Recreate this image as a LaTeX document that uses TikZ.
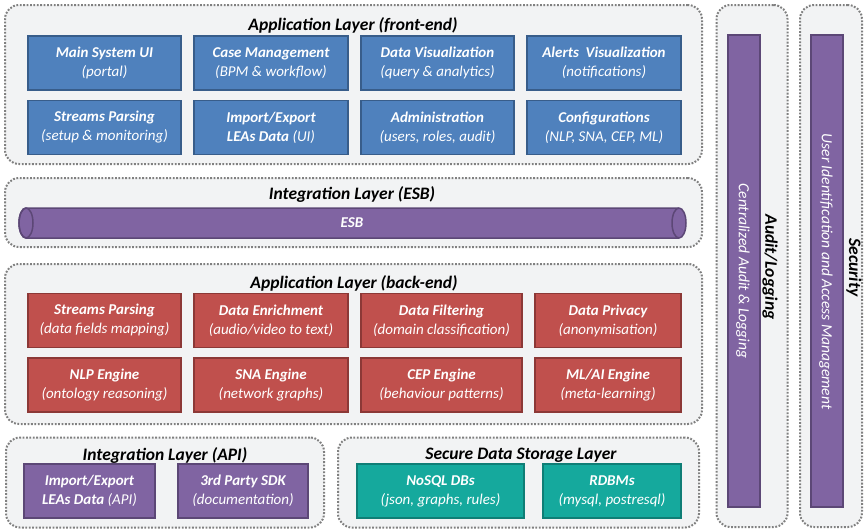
\documentclass[tikz,border=0pt]{standalone}
\usepackage{fontspec}
\setmainfont{Carlito}
\definecolor{panel}{HTML}{F2F3F4}
\definecolor{dotgrey}{HTML}{808080}
\definecolor{feFill}{HTML}{4F81BD}
\definecolor{feLine}{HTML}{385D8A}
\definecolor{beFill}{HTML}{C0504D}
\definecolor{beLine}{HTML}{8C3836}
\definecolor{apFill}{HTML}{8064A2}
\definecolor{apLine}{HTML}{5C4776}
\definecolor{dbFill}{HTML}{15A99D}
\definecolor{dbLine}{HTML}{0F7E76}
\tikzset{
  layer/.style={draw=dotgrey, fill=panel, line width=2pt,
    dash pattern=on 1.8pt off 1.6pt, rounded corners=14pt},
  layertitle/.style={anchor=base, inner sep=0pt,
    font=\fontsize{17.5}{20}\selectfont\bfseries\itshape},
  unit/.style={line width=1.6pt, text=white, align=center, inner sep=0pt,
    font=\fontsize{15}{19}\selectfont\itshape},
  feunit/.style={unit, draw=feLine, fill=feFill},
  beunit/.style={unit, draw=beLine, fill=beFill},
  apunit/.style={unit, draw=apLine, fill=apFill},
  dbunit/.style={unit, draw=dbLine, fill=dbFill},
  sidetext/.style={rotate=-90, inner sep=0pt, text=white,
    font=\fontsize{15.5}{18}\selectfont\itshape},
  sidetitle/.style={rotate=-90, inner sep=0pt,
    font=\fontsize{17.5}{20}\selectfont\bfseries\itshape},
  sidebar/.style={draw=apLine, fill=apFill, line width=1.6pt,
    minimum width=32, minimum height=472, inner sep=0pt},
}

\begin{document}
\begin{tikzpicture}[x=1pt,y=1pt]
\useasboundingbox[fill=white] (0,0) rectangle (864,-530);

% ---- layer frames ----
\node[layer, minimum width=697, minimum height=159] (frontL) at (353.5,-84.5) {};
\node[layer, minimum width=697, minimum height=69] (esbL) at (353.5,-212.5) {};
\node[layer, minimum width=697, minimum height=160] (backL) at (353.5,-344) {};
\node[layer, minimum width=318, minimum height=90] (apiL) at (165,-482.5) {};
\node[layer, minimum width=361, minimum height=90] (storeL) at (518.5,-482.5) {};
\node[layer, minimum width=71, minimum height=522] (auditL) at (752,-266) {};
\node[layer, minimum width=62, minimum height=522] (secL) at (831,-266) {};

% ---- layer titles ----
\node[layertitle] (frontT) at (353,-30) {Application Layer (front-end)};
\node[layertitle] (esbT) at (352,-199) {Integration Layer (ESB)};
\node[layertitle] (backT) at (354,-288) {Application Layer (back-end)};
\node[layertitle] (apiT) at (165,-460) {Integration Layer (API)};
\node[layertitle] (storeT) at (521,-459) {Secure Data Storage Layer};

\begin{scope}[every node/.append style={minimum height=54}]
% ---- front-end units ----
\node[feunit, minimum width=153] (mainui) at (104.5,-63) {\textbf{Main System UI}\\(portal)};
\node[feunit, minimum width=154] (casemgmt) at (271,-63) {\textbf{Case Management}\\(BPM \& workflow)};
\node[feunit, minimum width=153] (dataviz) at (437.5,-63) {\textbf{Data Visualization}\\(query \& analytics)};
\node[feunit, minimum width=154] (alertviz) at (604,-63) {\textbf{Alerts\ \ Visualization}\\(notifications)};
\node[feunit, minimum width=153] (streamsui) at (104.5,-127.5) {\textbf{Streams Parsing}\\(setup \& monitoring)};
\node[feunit, minimum width=154] (leasui) at (271,-127.5) {\textbf{Import/Export}\\\textbf{LEAs Data} (UI)};
\node[feunit, minimum width=153] (admin) at (437.5,-127.5) {\textbf{Administration}\\(users, roles, audit)};
\node[feunit, minimum width=154] (config) at (604,-127.5) {\textbf{Configurations}\\(NLP, SNA, CEP, ML)};

% ---- back-end units ----
\node[beunit, minimum width=153] (streams) at (104.5,-320.5) {\textbf{Streams Parsing}\\(data fields mapping)};
\node[beunit, minimum width=154] (enrich) at (271,-320.5) {\textbf{Data Enrichment}\\(audio/video to text)};
\node[beunit, minimum width=161] (filter) at (441.5,-320.5) {\textbf{Data Filtering}\\(domain classification)};
\node[beunit, minimum width=146] (privacy) at (608,-320.5) {\textbf{Data Privacy}\\(anonymisation)};
\node[beunit, minimum width=153] (nlp) at (104.5,-385) {\textbf{NLP Engine}\\(ontology reasoning)};
\node[beunit, minimum width=154] (sna) at (271,-385) {\textbf{SNA Engine}\\(network graphs)};
\node[beunit, minimum width=161] (cep) at (441.5,-385) {\textbf{CEP Engine}\\(behaviour patterns)};
\node[beunit, minimum width=146] (mlai) at (608,-385) {\textbf{ML/AI Engine}\\(meta-learning)};

% ---- API and storage units ----
\node[apunit, minimum width=131] (leasapi) at (89.5,-491) {\textbf{Import/Export}\\\textbf{LEAs Data} (API)};
\node[apunit, minimum width=130] (sdk) at (243,-491) {\textbf{3rd Party SDK}\\(documentation)};
\node[dbunit, minimum width=167] (nosql) at (440.5,-491) {\textbf{NoSQL DBs}\\(json, graphs, rules)};
\node[dbunit, minimum width=138] (rdbms) at (612,-491) {\textbf{RDBMs}\\(mysql, postresql)};
\end{scope}

% ---- ESB pipe ----
\fill[apFill] (26,-208) -- (679,-208) arc[start angle=90, end angle=-90, x radius=7, y radius=15]
  -- (26,-238) arc[start angle=270, end angle=90, x radius=7, y radius=15] -- cycle;
\draw[apLine, line width=1.5pt] (26,-208) -- (679,-208) arc[start angle=90, end angle=-90, x radius=7, y radius=15]
  -- (26,-238) arc[start angle=270, end angle=90, x radius=7, y radius=15] -- cycle;
\draw[apLine, line width=1.5pt] (26,-223) ellipse[x radius=7, y radius=15];
\draw[apLine, line width=1.5pt] (679,-208) arc[start angle=90, end angle=270, x radius=7, y radius=15];
\node[text=white, inner sep=0pt, font=\fontsize{15}{18}\selectfont\bfseries\itshape] (esb) at (352,-223) {ESB};

% ---- cross-cutting bars ----
\node[sidebar] (auditbar) at (744,-271) {};
\node[sidebar] (secbar) at (827,-271) {};
\node[sidetext] (auditTxt) at (743,-271) {Centralized Audit \& Logging};
\node[sidetext] (secTxt) at (826,-271.5) {User Identification and Access Management};
\node[sidetitle] (auditT) at (770,-267) {Audit/Logging};
\node[sidetitle] (secT) at (854,-267.5) {Security};
\end{tikzpicture}
\end{document}
